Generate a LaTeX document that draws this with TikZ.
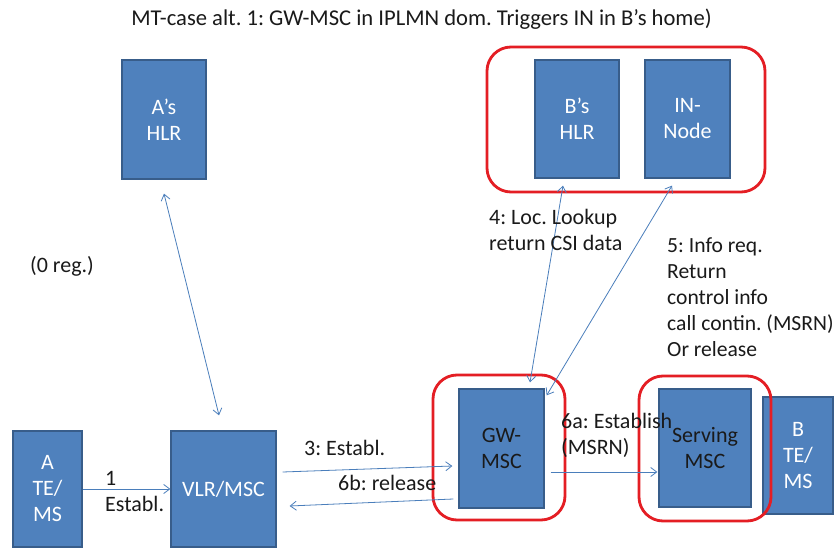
\documentclass[tikz,border=0pt]{standalone}
\usepackage{fontspec}
\setmainfont{Carlito}
\usetikzlibrary{arrows.meta}
\definecolor{boxfill}{HTML}{4F81BD}
\definecolor{boxline}{HTML}{385D8A}
\definecolor{arrowc}{HTML}{4A7EBB}
\definecolor{frame}{RGB}{228,30,36}
\definecolor{darktext}{HTML}{1A1A1A}
\frenchspacing
\begin{document}
\begin{tikzpicture}[x=1pt,y=-1pt,
  every node/.style={font=\fontsize{22}{26}\selectfont},
  netbox/.style={draw=boxline,line width=1.3pt,fill=boxfill,text=white,align=center,inner sep=0pt},
  darkbox/.style={netbox,text=darktext},
  grp/.style={draw=frame,line width=2.8pt,rounded corners=24pt,inner sep=0pt},
  lbl/.style={anchor=west,align=left,inner sep=0pt,text=darktext},
  conn/.style={draw=arrowc,line width=0.8pt,-{Straight Barb[length=6pt,width=9pt]}},
  biconn/.style={draw=arrowc,line width=0.8pt,{Straight Barb[length=6pt,width=9pt]}-{Straight Barb[length=6pt,width=9pt]}}
]
\useasboundingbox (0,0) rectangle (836,548);
\fill[white] (0,0) rectangle (836,548);

\node[inner sep=0pt,text=darktext,font=\fontsize{22.6}{26}\selectfont] (title) at (421.5,19) {MT-case alt. 1: GW-MSC in IPLMN dom. Triggers IN in B’s home)};

% boxes
\node[netbox,minimum width=84pt,minimum height=119pt] (ahlr) at (164,119.5) {A’s\\HLR};
\node[netbox,minimum width=84pt,minimum height=118pt] (bhlr) at (577,119) {B’s\\HLR};
\node[netbox,minimum width=85pt,minimum height=118pt] (innode) at (687.5,119) {IN-\\Node};
\node[netbox,minimum width=69pt,minimum height=116pt] (ate) at (47.5,489) {A\\TE/\\MS};
\node[netbox,minimum width=105pt,minimum height=116pt] (vlr) at (223.5,489) {VLR/MSC};
\node[darkbox,minimum width=85pt,minimum height=119pt] (gw) at (501.5,448.5) {GW-\\MSC};
\node[netbox,minimum width=70pt,minimum height=117pt] (bte) at (798,455.5) {B\\TE/\\MS};
\node[darkbox,minimum width=92pt,minimum height=118pt] (serv) at (705,448) {Serving\\MSC};

% red group frames
\node[grp,minimum width=278pt,minimum height=145pt] (homegrp) at (626,119.5) {};
\node[grp,minimum width=132pt,minimum height=145pt] (gwgrp) at (499,447.5) {};
\node[grp,minimum width=132pt,minimum height=145pt] (servgrp) at (705,448.5) {};

% connectors
\draw[conn] (ate.east) -- (vlr.west);
\draw[biconn] ([yshift=-14pt]ahlr.south) -- ([xshift=-4.5pt,yshift=15pt]vlr.north);
\draw[conn] ([xshift=6pt,yshift=17pt]vlr.east) -- ([xshift=-6pt,yshift=-17.5pt]gw.west);
\draw[conn] ([xshift=-5pt,yshift=-50.5pt]gw.west) -- ([xshift=13pt,yshift=-17pt]vlr.east);
\draw[conn] ([xshift=6pt,yshift=-23.5pt]gw.east) -- ([xshift=-1pt,yshift=-24pt]serv.west);
\draw[biconn] ([xshift=-14pt,yshift=-7pt]bhlr.south) -- ([xshift=28.5pt,yshift=6pt]gw.north);
\draw[biconn] ([xshift=-15.5pt,yshift=-7pt]innode.south) -- ([xshift=2pt,yshift=-7pt]gw.north east);

% labels
\node[lbl] (reg) at (30,266) {(0 reg.)};
\node[lbl] (l1) at (105,478) {1};
\node[lbl] (l1b) at (105,504) {Establ.};
\node[lbl] (l3) at (304,448) {3: Establ.};
\node[lbl] (l6b) at (338,483) {6b: release};
\node[lbl] (l6a) at (561,435) {6a: Establish\\(MSRN)};
\node[lbl] (l4) at (489,229.5) {4: Loc. Lookup\\return CSI data};
\node[lbl,font=\fontsize{21.6}{26}\selectfont] (l5) at (667,297) {5: Info req.\\Return\\control info\\call contin. (MSRN)\\Or release};
\end{tikzpicture}
\end{document}
